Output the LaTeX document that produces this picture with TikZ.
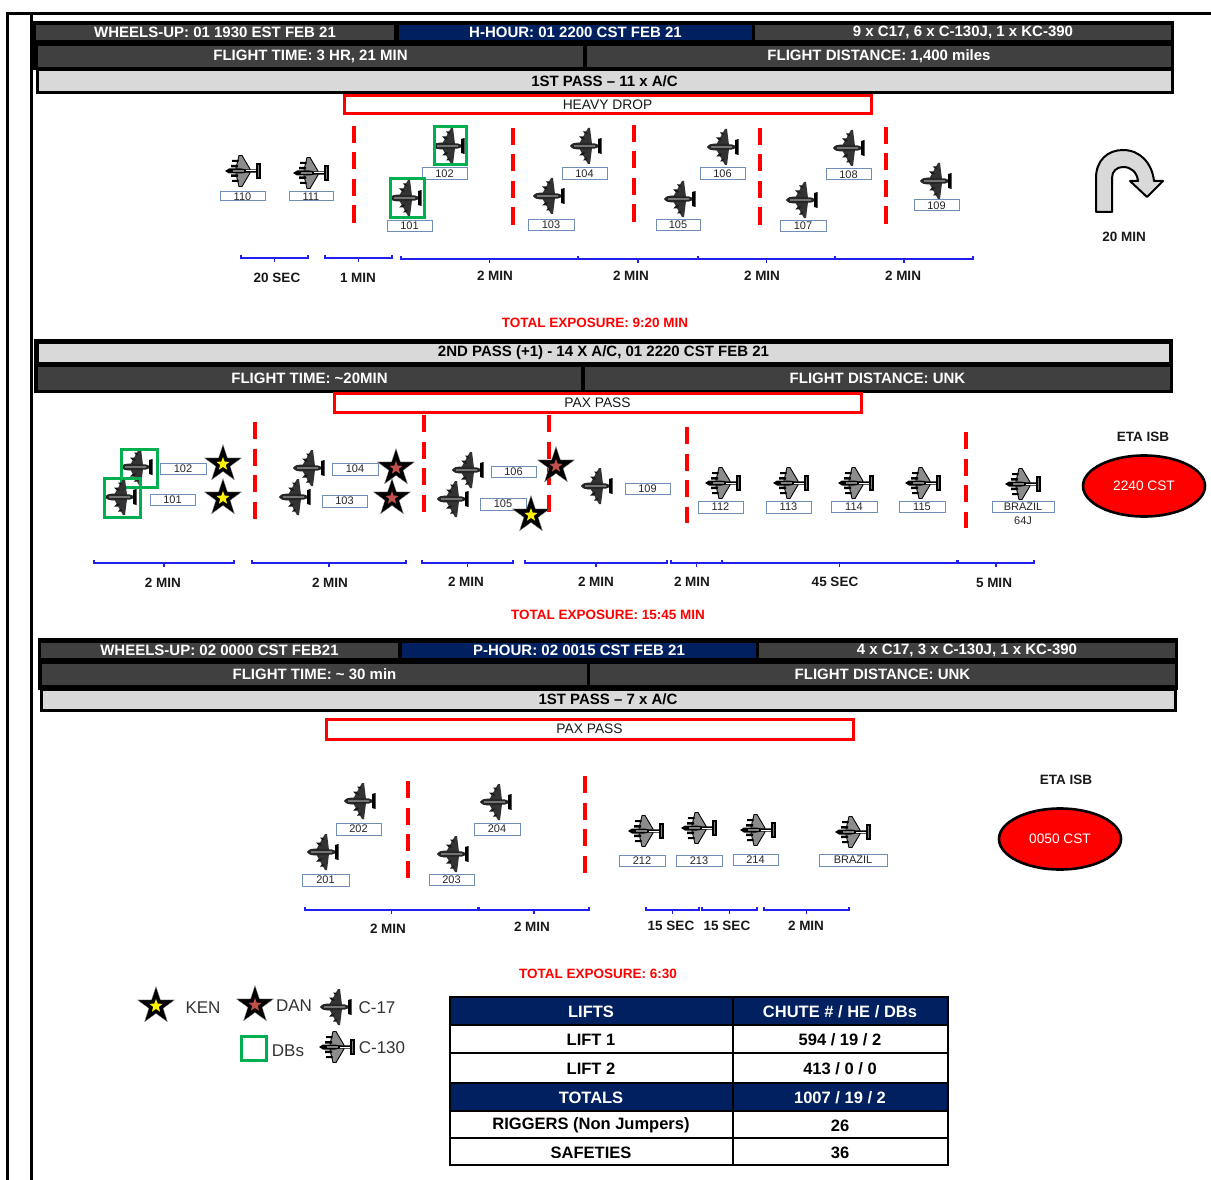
\documentclass[tikz,border=0pt]{standalone}
\usepackage{fontspec}
\setmainfont{Liberation Sans}
\usetikzlibrary{shapes.geometric}
\definecolor{dk}{HTML}{404040}
\definecolor{nv}{HTML}{002060}
\definecolor{lg}{HTML}{D9D9D9}
\definecolor{gr}{HTML}{00B050}
\definecolor{lb}{HTML}{6F8DB5}
\definecolor{br}{HTML}{2020F0}
\definecolor{rs}{HTML}{C0504D}
\newcounter{nid}
\tikzset{
 x=1pt,y=-1pt,
 cell/.style={anchor=center,inner sep=0,font=\bfseries\fontsize{15}{15}\selectfont,text=white},
 lcell/.style={cell,text=black},
 tag/.style={inner sep=0,font=\fontsize{11}{11}\selectfont,text=black!85},
 note/.style={inner sep=0,font=\bfseries\fontsize{13.5}{14}\selectfont,text=black!90},
 rednote/.style={inner sep=0,font=\bfseries\fontsize{13.5}{14}\selectfont,text=red},
 plain/.style={inner sep=0,font=\fontsize{17}{17}\selectfont,text=black!80},
 tbl/.style={inner sep=0,font=\bfseries\fontsize{16.5}{17}\selectfont},
 dropline/.style={red,line width=4.5pt,dash pattern=on 17pt off 9.5pt},
 bracket/.style={br,line width=1.3pt},
 pics/cseventeen/.style={code={
  \fill[black!80] (-8,-2) -- (1,-18) -- (3,-18) -- (5,-2) -- cycle;
  \fill[black!80] (-8,2) -- (1,18) -- (3,18) -- (5,2) -- cycle;
  \fill[black!90] (-8,-9.5) -- (-4,-9.5) -- (-2,-6.5) -- (-5,-6.5) -- cycle (-4,-14.5) -- (-1,-14.5) -- (0,-12) -- (-2,-12) -- cycle;
  \fill[black!90] (-8,9.5) -- (-4,9.5) -- (-2,6.5) -- (-5,6.5) -- cycle (-4,14.5) -- (-1,14.5) -- (0,12) -- (-2,12) -- cycle;
  \fill[black!85] (-17,0) .. controls (-15,-3) and (-12,-3.5) .. (-9,-3.5) -- (8,-2.5) -- (12,-1) -- (12,1) -- (8,2.5) -- (-9,3.5) .. controls (-12,3.5) and (-15,3) .. (-17,0) -- cycle;
  \fill[black] (11,-7) -- (14.5,-8) -- (14.5,8) -- (11,7) -- cycle;
  \fill[black!55] (-13,-1) -- (8,-.8) -- (8,.8) -- (-13,1) -- cycle;
 }},
 pics/cthirty/.style={code={
  \fill[black!45,draw=black,line width=.9pt,line join=round] (-3,-15.5) -- (0,-15.5) -- (8,-2) -- (8,2) -- (0,15.5) -- (-3,15.5) -- (-6,3) -- (-6,-3) -- cycle;
  \fill[black] (-10,-11) rectangle (-3.5,-9) (-11,-6) rectangle (-4,-3.5);
  \fill[black] (-10,9) rectangle (-3.5,11) (-11,3.5) rectangle (-4,6);
  \fill[black] (-17,0) -- (-13,-2.5) -- (-1,-2.5) -- (4,-1.6) -- (15,-1.6) -- (15,1.6) -- (4,1.6) -- (-1,2.5) -- (-13,2.5) -- cycle;
  \fill[black!50] (-9,-.8) rectangle (2,.8);
  \fill[white] (4,-.5) rectangle (14,.5);
  \fill[black!50,draw=black,line width=1.2pt] (15,-7) rectangle (18,7);
 }},
}
\newcommand\mylbl[5]{\stepcounter{nid}\node[draw=lb,line width=1pt,fill=white,minimum width=#3pt-#1pt,minimum height=#4pt-#2pt,inner sep=0,tag] (lb\thenid) at ({(#1+#3)/2},{(#2+#4)/2}) {#5};}
\newcommand\myrect[6]{\stepcounter{nid}\node[rectangle,fill=#5,minimum width=#3pt-#1pt,minimum height=#4pt-#2pt,cell] (c\thenid) at ({(#1+#3)/2},{(#2+#4)/2}) {#6};}
\newcommand\mylrect[5]{\stepcounter{nid}\node[rectangle,fill=lg,draw=black,line width=3pt,minimum width=#3pt-#1pt,minimum height=#4pt-#2pt,lcell] (c\thenid) at ({(#1+#3)/2},{(#2+#4)/2}) {#5};}
\newcommand\myredbox[5]{\stepcounter{nid}\node[rectangle,fill=white,draw=red,line width=3pt,minimum width=#3pt-#1pt,minimum height=#4pt-#2pt,inner sep=0,font=\fontsize{13.8}{14}\selectfont,text=black!90] (c\thenid) at ({(#1+#3)/2},{(#2+#4)/2}) {#5};}
\newcommand\mygrn[4]{\draw[gr,line width=3pt] (#1,#2) rectangle (#3,#4);}
\newcommand\mybrk[3]{\draw[bracket] (#1,#3-3) -- (#1,#3) -- (#2,#3) -- (#2,#3-3) ({(#1+#2)/2},#3) -- ++(0,4);}
\newcommand\myrnk[3]{\stepcounter{nid}\node[star,star points=5,star point ratio=2.6,fill=black,draw=black!40,line width=.3pt,inner sep=0,minimum size=39pt] (s\thenid) at (#1,#2) {};
 \node[star,star points=5,star point ratio=2.4,fill=#3,inner sep=0,minimum size=14pt] (t\thenid) at (#1,#2) {};}
\newcommand\mydrop[3]{\draw[dropline] (#1,#2) -- (#1,#3);}
\newcommand\myeta[6]{\node[note] (e#1) at (#2,#3) {ETA ISB};
 \node[ellipse,fill=red,draw=black,line width=2.6pt,minimum width=122pt,minimum height=61pt,inner sep=0,text=white,font=\fontsize{13.7}{14}\selectfont] (o#1) at (#4,#5) {#6};}
\begin{document}
\begin{tikzpicture}
\useasboundingbox (0,0) rectangle (1211,1180);
\fill[white] (0,0) rectangle (1211,1180);
% frame
\draw[black,line width=3pt] (7,1180) -- (7,14) -- (31,14) -- (31,1180);
\draw[black,line width=3pt] (31,14) -- (1211,14);
% --- section 1 header
\fill[black] (33,21) rectangle (1174,70);
\myrect{36}{25}{394}{40}{dk}{WHEELS-UP: 01 1930 EST FEB 21}
\myrect{399}{25}{752}{40}{nv}{H-HOUR: 01 2200 CST FEB 21}
\myrect{755}{25}{1171}{40}{dk}{9 x C17, 6 x C-130J, 1 x KC-390}
\myrect{38}{46}{583}{67}{dk}{FLIGHT TIME: 3 HR, 21 MIN}
\myrect{587}{46}{1171}{67}{dk}{FLIGHT DISTANCE: 1,400 miles}
\mylrect{37}{70}{1172}{93}{1ST PASS – 11 x A/C}
\myredbox{344}{96}{871}{114}{HEAVY DROP}
\pic at (242,171) {cthirty}; \mylbl{220}{192}{265}{201}{110}
\pic at (310,173) {cthirty}; \mylbl{289}{192}{333}{201}{111}
\pic at (450,146) {cseventeen}; \mygrn{434}{127}{466}{165} \mylbl{422}{168}{467}{180}{102}
\pic at (407,198) {cseventeen}; \mygrn{390}{179}{424}{217} \mylbl{387}{220}{432}{231}{101}
\pic at (587,146) {cseventeen}; \mylbl{562}{168}{607}{180}{104}
\pic at (550,196) {cseventeen}; \mylbl{528}{219}{574}{230}{103}
\pic at (724,147) {cseventeen}; \mylbl{700}{168}{745}{180}{106}
\pic at (681,199) {cseventeen}; \mylbl{656}{219}{700}{230}{105}
\pic at (850,148) {cseventeen}; \mylbl{826}{169}{871}{180}{108}
\pic at (803,200) {cseventeen}; \mylbl{780}{220}{826}{231}{107}
\pic at (937,181) {cseventeen}; \mylbl{914}{200}{959}{211}{109}
\mydrop{354}{126}{224}\mydrop{513}{128}{225}\mydrop{634}{125}{222}\mydrop{760}{128}{225}\mydrop{886}{127}{224}
% U-turn
\draw[black,line width=2pt,fill=lg,line join=round] (1096,212) -- (1096,178) .. controls (1096,160) and (1108,150) .. (1123,150) .. controls (1140,150) and (1152,163) .. (1154,181) -- (1163,181) -- (1147,197) -- (1130,181) -- (1138,181) .. controls (1137,172) and (1131,167) .. (1123,167) .. controls (1117,167) and (1112,171) .. (1112,178) -- (1112,212) -- cycle;
\node[note] (n20) at (1124,237) {20 MIN};
\mybrk{241}{308}{258}\mybrk{325}{392}{258}
\mybrk{401}{578}{259}\mybrk{578}{698}{259}\mybrk{698}{835}{259}\mybrk{835}{973}{259}
\node[note] (n1) at (277,278) {20 SEC};
\node[note] (n2) at (358,278) {1 MIN};
\node[note] (n3) at (495,276) {2 MIN};
\node[note] (n4) at (631,276) {2 MIN};
\node[note] (n5) at (762,276) {2 MIN};
\node[note] (n6) at (903,276) {2 MIN};
\node[rednote] (t1) at (595,323) {TOTAL EXPOSURE: 9:20 MIN};
% --- section 2
\fill[black] (34,339) rectangle (1173,393);
\mylrect{37}{342}{1170}{363}{2ND PASS (+1) - 14 X A/C, 01 2220 CST FEB 21}
\myrect{38}{367}{581}{390}{dk}{FLIGHT TIME: \textasciitilde{}20MIN}
\myrect{585}{367}{1170}{390}{dk}{FLIGHT DISTANCE: UNK}
\myredbox{334}{393}{861}{412}{PAX PASS}
\pic at (138,467) {cseventeen}; \mygrn{121}{449}{157}{487} \mylbl{160}{463}{206}{474}{102} \myrnk{223}{464}{yellow}
\pic at (122,497) {cseventeen}; \mygrn{104}{478}{140}{517} \mylbl{150}{494}{195}{505}{101} \myrnk{223}{498}{yellow}
\mydrop{255}{422}{520}
\pic at (310,468) {cseventeen}; \mylbl{332}{463}{378}{475}{104} \myrnk{396}{468}{rs}
\pic at (296,497) {cseventeen}; \mylbl{322}{495}{367}{507}{103} \myrnk{392}{498}{rs}
\mydrop{424}{415}{512}\mydrop{549}{415}{512}
\pic at (469,470) {cseventeen}; \mylbl{491}{466}{536}{477}{106} \myrnk{556}{466}{rs}
\pic at (454,499) {cseventeen}; \mylbl{480}{498}{526}{510}{105} \myrnk{531}{515}{yellow}
\pic at (598,486) {cseventeen}; \mylbl{625}{483}{670}{494}{109}
\mydrop{687}{427}{523}\mydrop{966}{432}{528}
\pic at (722,483) {cthirty}; \mylbl{698}{501}{743}{513}{112}
\pic at (790,483) {cthirty}; \mylbl{766}{501}{811}{513}{113}
\pic at (855,483) {cthirty}; \mylbl{831}{501}{877}{512}{114}
\pic at (922,483) {cthirty}; \mylbl{899}{501}{945}{512}{115}
\pic at (1022,484) {cthirty}; \mylbl{992}{501}{1054}{512}{BRAZIL}
\node[tag] (j64) at (1023,521) {64J};
\myeta{a}{1143}{437}{1144}{486}{2240 CST}
\mybrk{94}{234}{563}\mybrk{252}{406}{563}\mybrk{422}{513}{563}\mybrk{525}{667}{563}\mybrk{671}{722}{563}\mybrk{722}{957}{563}\mybrk{958}{1034}{563}
\node[note] (m1) at (163,583) {2 MIN};
\node[note] (m2) at (330,583) {2 MIN};
\node[note] (m3) at (466,582) {2 MIN};
\node[note] (m4) at (596,582) {2 MIN};
\node[note] (m5) at (692,582) {2 MIN};
\node[note] (m6) at (835,582) {45 SEC};
\node[note] (m7) at (994,583) {5 MIN};
\node[rednote] (t2) at (608,615) {TOTAL EXPOSURE: 15:45 MIN};
% --- section 3
\fill[black] (38,638) rectangle (1178,690);
\myrect{41}{643}{398}{658}{dk}{WHEELS-UP: 02 0000 CST FEB21}
\myrect{402}{643}{756}{658}{nv}{P-HOUR: 02 0015 CST FEB 21}
\myrect{759}{643}{1175}{658}{dk}{4 x C17, 3 x C-130J, 1 x KC-390}
\myrect{42}{664}{587}{685}{dk}{FLIGHT TIME: \textasciitilde{} 30 min}
\myrect{590}{664}{1175}{685}{dk}{FLIGHT DISTANCE: UNK}
\mylrect{41}{689}{1175}{710}{1ST PASS – 7 x A/C}
\myredbox{326}{719}{853}{739}{PAX PASS}
\pic at (361,801) {cseventeen}; \mylbl{336}{823}{381}{835}{202}
\pic at (324,852) {cseventeen}; \mylbl{302}{874}{349}{886}{201}
\pic at (497,802) {cseventeen}; \mylbl{474}{823}{520}{835}{204}
\pic at (454,854) {cseventeen}; \mylbl{429}{874}{474}{885}{203}
\mydrop{408}{781}{878}\mydrop{585}{776}{873}
\pic at (645,831) {cthirty}; \mylbl{619}{855}{665}{866}{212}
\pic at (698,828) {cthirty}; \mylbl{676}{855}{722}{866}{213}
\pic at (757,830) {cthirty}; \mylbl{733}{854}{778}{865}{214}
\pic at (852,832) {cthirty}; \mylbl{819}{854}{887}{866}{BRAZIL}
\myeta{b}{1066}{780}{1060}{839}{0050 CST}
\mybrk{305}{478}{910}\mybrk{479}{589}{910}\mybrk{646}{699}{910}\mybrk{702}{757}{910}\mybrk{764}{849}{910}
\node[note] (r1) at (388,929) {2 MIN};
\node[note] (r2) at (532,927) {2 MIN};
\node[note] (r3) at (671,926) {15 SEC};
\node[note] (r4) at (727,926) {15 SEC};
\node[note] (r5) at (806,926) {2 MIN};
\node[rednote] (t3) at (598,974) {TOTAL EXPOSURE: 6:30};
% --- legend
\myrnk{156}{1006}{yellow}
\node[plain] (kk) at (203,1008) {KEN};
\myrnk{255}{1005}{rs}
\node[plain] (dd) at (294,1006) {DAN};
\pic at (337,1007) {cseventeen};
\node[plain] (c7) at (377,1008) {C-17};
\mygrn{241}{1036}{266}{1060}
\node[plain] (db) at (288,1051) {DBs};
\pic at (336,1047) {cthirty};
\node[plain] (c3) at (382,1048) {C-130};
% --- table
\foreach \ya/\yb/\fc/\tc/\cola/\colb/\nm in {997/1025/nv/white/LIFTS/{CHUTE \# / HE / DBs}/a,1025/1053/white/black/LIFT 1/{594 / 19 / 2}/b,1053/1083/white/black/LIFT 2/{413 / 0 / 0}/c,1083/1111/nv/white/TOTALS/{1007 / 19 / 2}/d,1111/1138/white/black/RIGGERS (Non Jumpers)/26/e,1138/1165/white/black/SAFETIES/36/f}{
 \fill[\fc] (450,\ya) rectangle (948,\yb);
 \draw[black,line width=2pt] (450,\ya) rectangle (733,\yb) (733,\ya) rectangle (948,\yb);
 \node[tbl,text=\tc] (ta\nm) at (591,{(\ya+\yb)/2+1}) {\cola};
 \node[tbl,text=\tc] (tb\nm) at (840,{(\ya+\yb)/2+1}) {\colb};
}
\end{tikzpicture}
\end{document}
